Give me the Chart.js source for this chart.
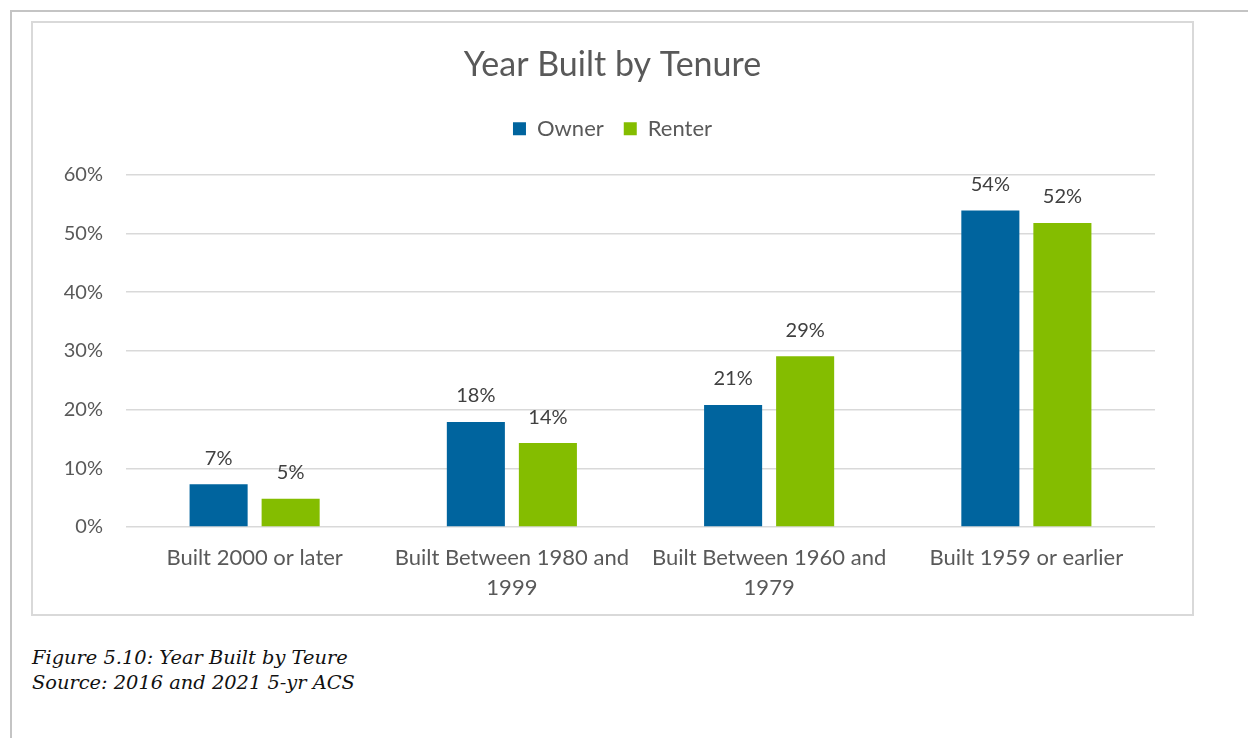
<!DOCTYPE html>
<html>
<head>
<meta charset="utf-8">
<script src="https://cdn.jsdelivr.net/npm/chart.js@4.4.1/dist/chart.umd.min.js"></script>
<style>
  html, body { margin: 0; padding: 0; background: #ffffff; }
  body { width: 1248px; height: 738px; position: relative; overflow: hidden; }
  #outerTop { position: absolute; left: 10px; top: 10px; width: 1238px; height: 2px; background: #c4c4c4; }
  #outerLeft { position: absolute; left: 10px; top: 10px; width: 2px; height: 728px; background: #c4c4c4; }
  #box { position: absolute; left: 31px; top: 21px; width: 1159px; height: 591px; border: 2px solid #d9d9d9; }
  #wrap { position: absolute; left: 33px; top: 23px; width: 1159px; height: 591px; }
  #caption { position: absolute; left: 32px; top: 645px; font-family: "DejaVu Serif", serif; font-style: italic; font-size: 19.4px; line-height: 25px; color: #111111; }
</style>
</head>
<body>
<div id="outerTop"></div>
<div id="outerLeft"></div>
<div id="box"></div>
<div id="wrap"><canvas id="c" width="1159" height="591"></canvas></div>
<div id="caption">Figure 5.10: Year Built by Teure<br>Source: 2016 and 2021 5-yr ACS</div>
<script>
const categories = [["Built 2000 or later"], ["Built Between 1980 and", "1999"], ["Built Between 1960 and", "1979"], ["Built 1959 or earlier"]];
const ownerValues = [7.3, 17.9, 20.8, 53.9];
const renterValues = [4.8, 14.3, 29.1, 51.8];
const ownerLabels = ["7%", "18%", "21%", "54%"];
const renterLabels = ["5%", "14%", "29%", "52%"];
const yTicks = [0, 10, 20, 30, 40, 50, 60];

const FONT = "Lato, 'Open Sans', sans-serif";

const valueLabels = {
  id: 'valueLabels',
  afterDatasetsDraw(chart) {
    const ctx = chart.ctx;
    const sets = [ownerLabels, renterLabels];
    ctx.save();
    ctx.font = "20px " + FONT;
    ctx.fillStyle = "#404040";
    ctx.textAlign = "center";
    ctx.textBaseline = "middle";
    chart.data.datasets.forEach((ds, i) => {
      const meta = chart.getDatasetMeta(i);
      meta.data.forEach((bar, j) => {
        ctx.fillText(sets[i][j], bar.x, bar.y - 26);
      });
    });
    ctx.restore();
  }
};

const legendSpacer = {
  id: 'legendSpacer',
  afterInit(chart) {
    const lg = chart.legend;
    if (!lg) return;
    const f = lg.fit.bind(lg);
    lg.fit = function () { f(); this.height += 25; };
  }
};

const chart = new Chart(document.getElementById('c'), {
  type: 'bar',
  data: {
    labels: categories,
    datasets: [
      { label: 'Owner', data: ownerValues, backgroundColor: '#00649e', categoryPercentage: 0.56, barPercentage: 0.806 },
      { label: 'Renter', data: renterValues, backgroundColor: '#84bd00', categoryPercentage: 0.56, barPercentage: 0.806 }
    ]
  },
  options: {
    responsive: false,
    animation: false,
    layout: { padding: 0 },
    plugins: {
      title: {
        display: true,
        text: 'Year Built by Tenure',
        color: '#595959',
        font: { family: FONT, size: 34, weight: 'normal' },
        padding: { top: 22, bottom: 12 }
      },
      legend: {
        display: true,
        position: 'top',
        labels: {
          color: '#595959',
          font: { family: FONT, size: 22 },
          boxWidth: 13,
          boxHeight: 13,
          padding: 20
        }
      },
      tooltip: { enabled: false }
    },
    scales: {
      x: {
        grid: { display: false, drawTicks: false },
        border: { display: false },
        ticks: {
          color: '#595959',
          font: { family: FONT, size: 22, lineHeight: 1.36 },
          padding: 16,
          maxRotation: 0, autoSkip: false
        },
        afterFit(scale) { scale.height = 87; }
      },
      y: {
        min: 0, max: 60,
        afterBuildTicks(scale) { scale.ticks = yTicks.map(v => ({ value: v })); },
        grid: { color: '#d9d9d9', lineWidth: 1.5, drawTicks: false },
        border: { display: false },
        ticks: {
          color: '#595959',
          font: { family: FONT, size: 20 },
          padding: 23,
          callback: v => v + '%'
        },
        afterFit(scale) { scale.width = 93; }
      },
      yRight: {
        position: 'right',
        display: true,
        min: 0, max: 60,
        grid: { display: false, drawTicks: false },
        border: { display: false },
        ticks: { display: false },
        afterFit(scale) { scale.width = 37; }
      }
    }
  },
  plugins: [legendSpacer, valueLabels]
});
chart.update();
</script>
</body>
</html>
